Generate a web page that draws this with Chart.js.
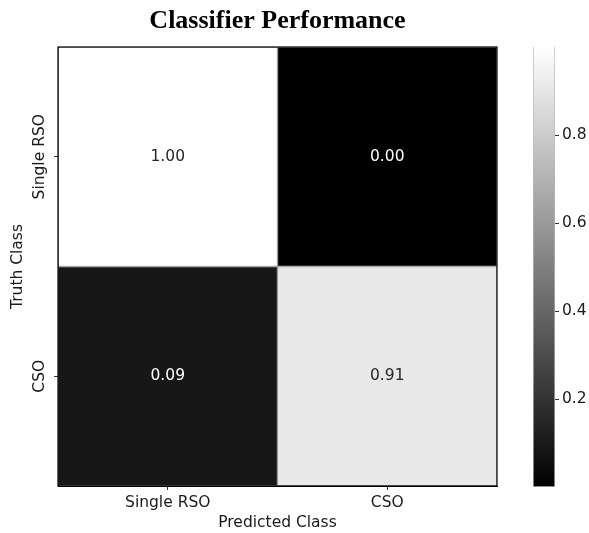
<!DOCTYPE html>
<html>
<head>
<meta charset="utf-8">
<script src="https://cdn.jsdelivr.net/npm/chart.js@4"></script>
<style>
  html, body { margin: 0; padding: 0; background: #fff; }
  #wrap { position: relative; width: 589px; height: 533px; }
  #main { position: absolute; left: 0; top: 0; }
  #cbar { position: absolute; left: 520px; top: 0; }
</style>
</head>
<body>
<div id="wrap">
  <canvas id="main" width="520" height="533"></canvas>
  <canvas id="cbar" width="69" height="533"></canvas>
</div>
<script>
// ==== Data ====
const predictedLabels = ["Single RSO", "CSO"];   // columns
const truthLabels = ["CSO", "Single RSO"];       // rows, bottom to top
const rowCSO = [0.09, 0.91];
const rowSingleRSO = [1.00, 0.00];
const cbarTicks = [0.2, 0.4, 0.6, 0.8];

// ==== Helpers ====
const FONT = "'DejaVu Sans', sans-serif";
const FS = 15.5;
const TXT = "#1a1a1a";
const gray = (v) => { const c = Math.round(255 * v); return `rgb(${c},${c},${c})`; };

function rowDataset(label, values, rowIdx) {
  return {
    label,
    values,
    data: values.map(() => [rowIdx, rowIdx + 1]),
    backgroundColor: values.map(gray),
    borderColor: "rgba(120,120,120,0.7)",
    borderWidth: 1,
    borderSkipped: false,
    grouped: false,
    barPercentage: 1,
    categoryPercentage: 1
  };
}

// cell numbers, rotated row labels, plot frame
const cellText = {
  id: "cellText",
  afterDatasetsDraw(chart) {
    const ctx = chart.ctx;
    const a = chart.chartArea;
    ctx.save();
    ctx.strokeStyle = "#000";
    ctx.lineWidth = 1.2;
    ctx.strokeRect(a.left, a.top, a.right - a.left, a.bottom - a.top);

    ctx.font = `${FS}px ${FONT}`;
    ctx.textAlign = "center";
    ctx.textBaseline = "middle";
    chart.data.datasets.forEach((ds, di) => {
      chart.getDatasetMeta(di).data.forEach((bar, i) => {
        const v = ds.values[i];
        const p = bar.getCenterPoint();
        ctx.fillStyle = v > 0.5 ? "#262626" : "#ffffff";
        ctx.fillText(v.toFixed(2), p.x, p.y);
      });
    });
    const ys = chart.scales.y;
    ctx.fillStyle = TXT;
    truthLabels.forEach((t, i) => {
      const y = ys.getPixelForValue(i + 0.5);
      ctx.save();
      ctx.translate(ys.right - 18, y);
      ctx.rotate(-Math.PI / 2);
      ctx.fillText(t, 0, 0);
      ctx.restore();
    });
    ctx.restore();
  }
};

// ==== Heatmap ====
new Chart(document.getElementById("main"), {
  type: "bar",
  data: {
    labels: predictedLabels,
    datasets: [
      rowDataset("CSO", rowCSO, 0),
      rowDataset("Single RSO", rowSingleRSO, 1)
    ]
  },
  options: {
    responsive: false,
    devicePixelRatio: 1,
    animation: false,
    layout: { padding: { left: 0, right: 23, top: 0, bottom: 0 } },
    plugins: {
      legend: { display: false },
      tooltip: { enabled: false },
      title: {
        display: true,
        fullSize: false,
        text: "Classifier Performance",
        color: "#000",
        font: { family: "'Liberation Serif', 'Times New Roman', serif", size: 26, weight: "bold" },
        padding: { top: 6, bottom: 9.8 }
      }
    },
    scales: {
      x: {
        type: "category",
        grid: { offset: false, drawOnChartArea: false, drawTicks: true, tickLength: 4, color: "#333" },
        border: { display: true, color: "#000", width: 1 },
        ticks: { color: TXT, font: { family: FONT, size: FS }, padding: 4, maxRotation: 0 },
        title: { display: true, text: "Predicted Class", color: TXT, font: { family: FONT, size: FS }, padding: { top: 0, bottom: 1 } },
        afterFit: (s) => { s.height = 47; }
      },
      y: {
        type: "linear",
        min: 0,
        max: 2,
        afterBuildTicks: (s) => { s.ticks = [0.5, 1.5].map(v => ({ value: v })); },
        grid: { drawOnChartArea: false, drawTicks: true, tickLength: 4, color: "#333" },
        border: { display: true, color: "#000", width: 1 },
        ticks: { display: false },
        title: { display: true, text: "Truth Class", color: TXT, font: { family: FONT, size: FS }, padding: { top: 9, bottom: 0 } },
        afterFit: (s) => { s.width = 58; }
      }
    }
  },
  plugins: [cellText]
});

// ==== Colorbar ====
new Chart(document.getElementById("cbar"), {
  type: "bar",
  data: {
    labels: [""],
    datasets: [{
      data: [[0, 1]],
      backgroundColor: (c) => {
        const a = c.chart.chartArea;
        if (!a) return "#888";
        const g = c.chart.ctx.createLinearGradient(0, a.bottom, 0, a.top);
        g.addColorStop(0, "#000");
        g.addColorStop(1, "#fff");
        return g;
      },
      borderColor: "rgba(140,140,140,0.6)",
      borderWidth: 1,
      borderSkipped: "top",
      barPercentage: 1,
      categoryPercentage: 1
    }]
  },
  options: {
    responsive: false,
    devicePixelRatio: 1,
    animation: false,
    layout: { padding: { left: 13, right: 0, top: 47, bottom: 46 } },
    plugins: { legend: { display: false }, tooltip: { enabled: false } },
    scales: {
      x: { display: false },
      y: {
        position: "right",
        min: 0,
        max: 1,
        afterBuildTicks: (s) => { s.ticks = cbarTicks.map(v => ({ value: v })); },
        grid: { drawOnChartArea: false, drawTicks: true, tickLength: 4, color: "#333" },
        border: { display: false },
        ticks: { color: TXT, font: { family: FONT, size: FS }, padding: 3, callback: (v) => v.toFixed(1) },
        afterFit: (s) => { s.width = 34; }
      }
    }
  }
});
</script>
</body>
</html>
